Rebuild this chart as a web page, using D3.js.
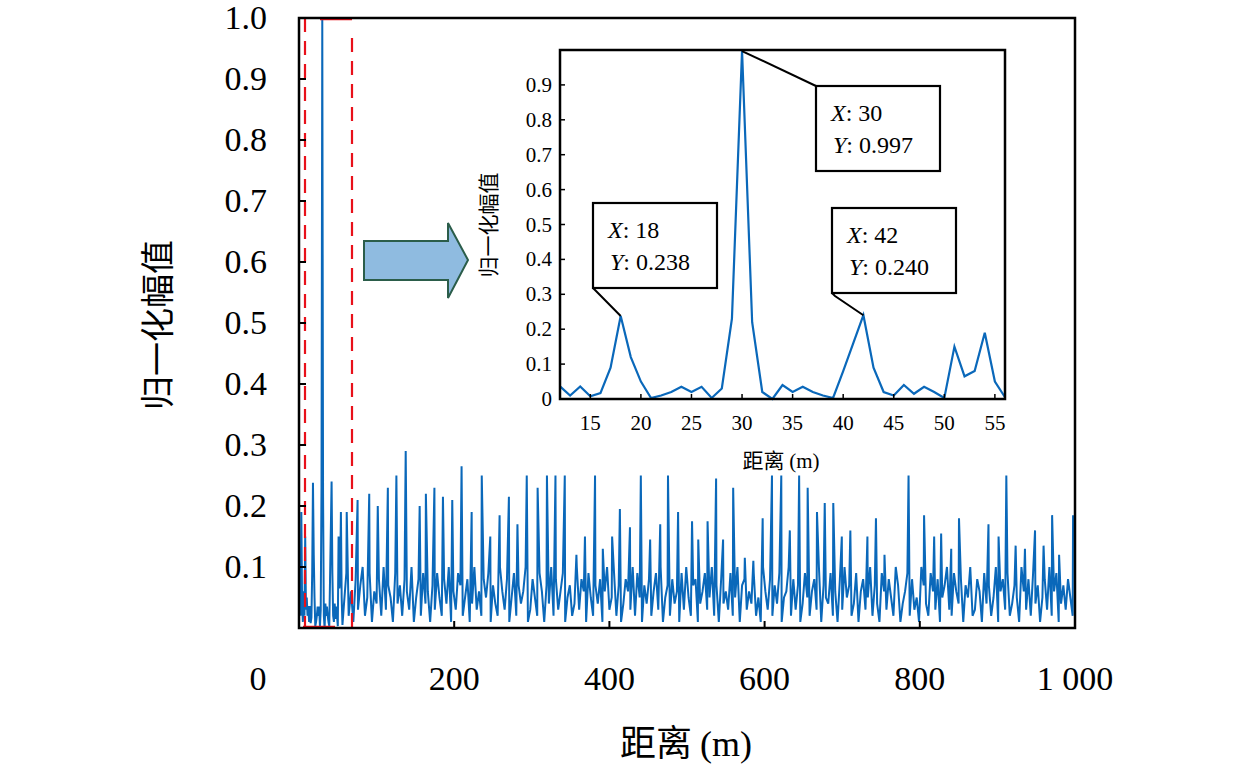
<!DOCTYPE html>
<html><head><meta charset="utf-8">
<script src="https://cdn.jsdelivr.net/npm/d3@7"></script>
<style>body{margin:0;background:#fff}</style></head>
<body><svg id="c" width="1260" height="772"></svg>
<script>
// ---- data ----
const mainXTicks = [0, 200, 400, 600, 800, 1000];
const mainXTickLabels = ["0", "200", "400", "600", "800", "1 000"];
const mainYTicks = [0.1,0.2,0.3,0.4,0.5,0.6,0.7,0.8,0.9,1.0];
// near-range samples (m, value)
const startX = [0,1,2,3,4,5,6,7,8,9,10,11];
const startY = [0.03,0.12,0.02,0.19,0.04,0.01,0.06,0.02,0.15,0.03,0.05,0.02];
// zoomed range 12..56 m
const insetX = [12,13,14,15,16,17,18,19,20,21,22,23,24,25,26,27,28,29,30,31,32,33,34,35,36,37,38,39,40,41,42,43,44,45,46,47,48,49,50,51,52,53,54,55,56];
const insetY = [0.036,0.01,0.036,0.008,0.017,0.09,0.238,0.12,0.05,0.003,0.01,0.02,0.035,0.02,0.035,0.003,0.03,0.23,0.997,0.22,0.02,0.0,0.04,0.02,0.035,0.02,0.01,0.003,0.08,0.16,0.24,0.09,0.02,0.01,0.04,0.015,0.035,0.02,0.003,0.15,0.065,0.08,0.19,0.05,0.005];
// background noise, every 3 m from 58 m (in hundredths)
const noiseStart = 58, noiseStep = 3;
const noise = [4,9,2,6,1,8,3,7,10,2,5,9,1,6,4,8,2,10,3,7,
5,1,9,4,7,2,8,6,3,10,1,5,8,2,9,4,6,1,7,3,
9,5,2,8,4,10,1,6,3,9,7,2,5,8,1,4,10,3,6,2,
8,5,9,1,7,4,2,10,6,3,8,1,5,9,2,7,4,6,10,1,
3,8,5,2,9,6,1,7,4,10,2,8,3,6,9,1,5,7,2,4,
10,3,8,6,1,9,5,2,7,4,8,1,6,10,3,5,9,2,7,1,
4,8,6,3,10,2,9,5,1,7,4,8,2,6,9,3,10,1,5,7,
2,8,4,6,1,9,3,10,5,2,7,8,1,4,6,9,3,5,10,2,
7,1,8,4,6,3,9,2,5,10,1,7,8,3,6,4,9,2,5,1,
10,6,3,8,2,7,4,9,1,5,6,10,2,8,3,7,1,4,9,5,
2,6,8,3,10,1,7,5,4,9,2,6,1,8,3,10,5,7,2,4,
9,1,6,8,3,5,10,2,7,4,1,9,6,3,8,5,2,10,7,1,
4,6,9,2,8,3,5,1,10,7,4,2,9,6,3,8,1,5,7,10,
3,2,9,6,4,8,1,7,5,10,2,3,8,6,1,9,4,7,2,5,
10,1,6,8,3,9,2,4,7,5,1,10,6,3,8,2,9,4,7,1,
5,8,3,10,2,6,9,1,4,7,3,8,5,2];
// spikes (m, value)
const spikeX = [61,75,90,101,114,125,137,155,163,174,185,197,209,222,235,246,258,270,281,293,307,319,330,342,357,368,381,391,403,413,426,440,452,465,475,488,506,514,526,537,546,559,574,585,597,609,621,632,644,655,667,677,688,699,710,732,743,754,785,805,818,827,840,850,888,901,911,923,935,948,959,970,979,997];
const spikeY = [0.19,0.21,0.22,0.2,0.23,0.25,0.29,0.2,0.22,0.23,0.215,0.21,0.265,0.19,0.25,0.15,0.185,0.215,0.17,0.25,0.23,0.25,0.25,0.25,0.12,0.15,0.25,0.13,0.15,0.195,0.165,0.25,0.145,0.17,0.25,0.19,0.175,0.145,0.175,0.245,0.145,0.23,0.115,0.11,0.18,0.25,0.25,0.16,0.25,0.23,0.19,0.205,0.205,0.15,0.16,0.15,0.18,0.12,0.25,0.185,0.15,0.155,0.13,0.18,0.17,0.15,0.25,0.135,0.13,0.16,0.135,0.185,0.12,0.185];
const insetXTicks = [15,20,25,30,35,40,45,50,55];
const insetYTicks = [0,0.1,0.2,0.3,0.4,0.5,0.6,0.7,0.8,0.9];
const callouts = [
  {x:18, y:0.238, lx:"18", ly:"0.238"},
  {x:30, y:0.997, lx:"30", ly:"0.997"},
  {x:42, y:0.240, lx:"42", ly:"0.240"}
];

// ---- build series ----
let pts = startX.map((x,i)=>[x,startY[i]]).concat(insetX.map((x,i)=>[x,insetY[i]]));
noise.forEach((v,i)=>{const x=noiseStart+i*noiseStep; if(x<=1000) pts.push([x,v/100]);});
spikeX.forEach((x,i)=>pts.push([x+0.5,spikeY[i]]));
pts.sort((a,b)=>a[0]-b[0]);

const svg = d3.select("#c");
const serif = "Liberation Serif, DejaVu Serif, serif";
const cjk = "Noto Sans CJK SC, sans-serif";
const blue = "#0a68ba";

// ---- main plot ----
const L=299, R=1075, T=18, B=628;
const x = d3.scaleLinear().domain([0,1000]).range([L,R]);
const y = d3.scaleLinear().domain([0,1]).range([B,T]);

svg.append("path").datum(pts).attr("fill","none").attr("stroke",blue).attr("stroke-width",2)
  .attr("d", d3.line().x(d=>x(d[0])).y(d=>y(d[1])));

// red dashed zoom box
const red="#e8101a";
svg.append("line").attr("x1",305).attr("x2",305).attr("y1",T).attr("y2",B).attr("stroke",red).attr("stroke-width",2.2).attr("stroke-dasharray","14,9");
svg.append("line").attr("x1",352).attr("x2",352).attr("y1",T+20).attr("y2",B).attr("stroke",red).attr("stroke-width",2.2).attr("stroke-dasharray","14,9");
svg.append("line").attr("x1",320).attr("x2",352).attr("y1",T+1).attr("y2",T+1).attr("stroke",red).attr("stroke-width",2.5);
svg.append("line").attr("x1",303).attr("x2",335).attr("y1",B-1).attr("y2",B-1).attr("stroke",red).attr("stroke-width",2.5);

svg.append("rect").attr("x",L).attr("y",T).attr("width",R-L).attr("height",B-T).attr("fill","none").attr("stroke","#000").attr("stroke-width",2.5);
mainYTicks.forEach(t=>{
  svg.append("line").attr("x1",L).attr("x2",L+7).attr("y1",y(t)).attr("y2",y(t)).attr("stroke","#000").attr("stroke-width",2);
  svg.append("text").attr("x",267).attr("y",y(t)+11).attr("text-anchor","end").attr("font-family",serif).attr("font-size",34).text(t.toFixed(1));
});
mainXTicks.forEach((t,i)=>{
  svg.append("line").attr("x1",x(t)).attr("x2",x(t)).attr("y1",B).attr("y2",B-7).attr("stroke","#000").attr("stroke-width",2);
  svg.append("text").attr("x", t===0?258:x(t)).attr("y",690).attr("text-anchor","middle").attr("font-family",serif).attr("font-size",34).text(mainXTickLabels[i]);
});
svg.append("text").attr("x",686).attr("y",756).attr("text-anchor","middle").attr("font-size",36).attr("font-family",cjk).text("距离 ")
  .append("tspan").attr("font-family",serif).text("(m)");
svg.append("text").attr("transform","translate(170,325) rotate(-90)").attr("text-anchor","middle").attr("font-family",cjk).attr("font-size",34).text("归一化幅值");

// arrow
svg.append("path").attr("d","M364,241 L448,241 L448,223 L468,260 L448,298 L448,280 L364,280 Z")
  .attr("fill","#8fbbe0").attr("stroke","#2b5d4a").attr("stroke-width",2);

// ---- inset ----
const iL=560, iR=1005, iT=50, iB=399;
const ix = d3.scaleLinear().domain([12,56]).range([iL,iR]);
const iy = d3.scaleLinear().domain([0,1]).range([iB,iT]);
svg.append("rect").attr("x",iL).attr("y",iT).attr("width",iR-iL).attr("height",iB-iT).attr("fill","#fff");
svg.append("path").datum(insetX.map((v,i)=>[v,insetY[i]])).attr("fill","none").attr("stroke",blue).attr("stroke-width",2.2)
  .attr("d", d3.line().x(d=>ix(d[0])).y(d=>iy(d[1])));
svg.append("rect").attr("x",iL).attr("y",iT).attr("width",iR-iL).attr("height",iB-iT).attr("fill","none").attr("stroke","#000").attr("stroke-width",2.5);
insetYTicks.forEach(t=>{
  svg.append("line").attr("x1",iL).attr("x2",iL+5).attr("y1",iy(t)).attr("y2",iy(t)).attr("stroke","#000").attr("stroke-width",1.5);
  svg.append("text").attr("x",552).attr("y",iy(t)+7).attr("text-anchor","end").attr("font-family",serif).attr("font-size",21).text(t===0?"0":t.toFixed(1));
});
insetXTicks.forEach(t=>{
  svg.append("line").attr("x1",ix(t)).attr("x2",ix(t)).attr("y1",iB).attr("y2",iB-5).attr("stroke","#000").attr("stroke-width",1.5);
  svg.append("text").attr("x",ix(t)).attr("y",430).attr("text-anchor","middle").attr("font-family",serif).attr("font-size",21).text(t);
});
svg.append("text").attr("x",781).attr("y",468).attr("text-anchor","middle").attr("font-size",21).attr("font-family",cjk).text("距离 ")
  .append("tspan").attr("font-family",serif).text("(m)");
svg.append("text").attr("transform","translate(496,225) rotate(-90)").attr("text-anchor","middle").attr("font-family",cjk).attr("font-size",21).text("归一化幅值");

// callouts
const boxes = [{bx:593,by:203},{bx:816,by:86},{bx:832,by:208}];
callouts.forEach((c,i)=>{
  const b=boxes[i], w=124, h=85;
  const px=ix(c.x), py=iy(c.y);
  svg.append("polyline").attr("points", i===1? `${px},${py} ${b.bx},${b.by}` : `${px},${py} ${b.bx+3},${b.by+h+3} ${b.bx},${b.by+h}`)
    .attr("fill","none").attr("stroke","#000").attr("stroke-width",2);
  svg.append("rect").attr("x",b.bx).attr("y",b.by).attr("width",w).attr("height",h).attr("fill","#fff").attr("stroke","#000").attr("stroke-width",2.2);
  const t1=svg.append("text").attr("x",b.bx+15).attr("y",b.by+35).attr("font-family",serif).attr("font-size",24);
  t1.append("tspan").attr("font-style","italic").text("X"); t1.append("tspan").text(": "+c.lx);
  const t2=svg.append("text").attr("x",b.bx+17).attr("y",b.by+67).attr("font-family",serif).attr("font-size",24);
  t2.append("tspan").attr("font-style","italic").text("Y"); t2.append("tspan").text(": "+c.ly);
});
</script></body></html>
